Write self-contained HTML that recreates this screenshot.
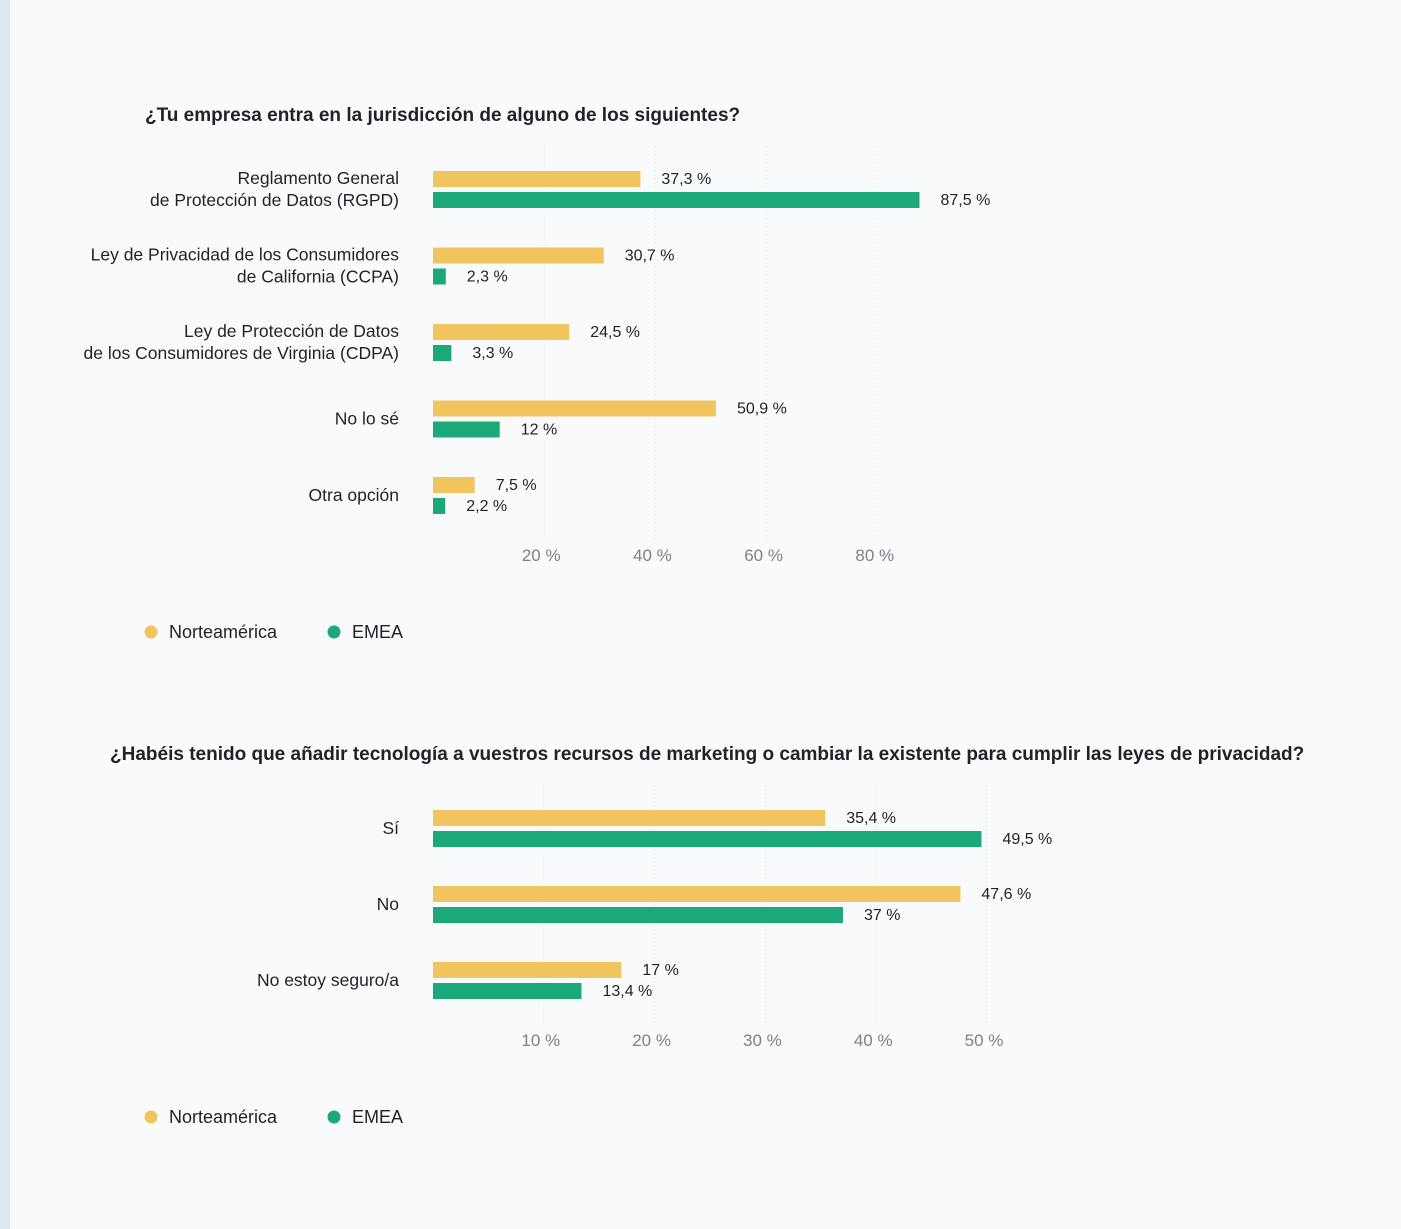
<!DOCTYPE html>
<html><head><meta charset="utf-8"><style>
html,body{margin:0;padding:0;background:#f8fafc;}
body{width:1401px;height:1229px;position:relative;overflow:hidden;font-family:"Liberation Sans",sans-serif;color:#1f2328;}
#strip{position:absolute;left:0;top:0;width:10px;height:1229px;background:#dde9f0;}
svg{position:absolute;left:0;top:0;}
</style></head><body>
<div id="strip"></div>
<svg id="svg" width="1401" height="1229"></svg>
<script>
const cats1 = ["Reglamento General|de Protección de Datos (RGPD)","Ley de Privacidad de los Consumidores|de California (CCPA)","Ley de Protección de Datos|de los Consumidores de Virginia (CDPA)","No lo sé","Otra opción"];
const na1 = [37.3,30.7,24.5,50.9,7.5];
const emea1 = [87.5,2.3,3.3,12,2.2];
const ticks1 = [20,40,60,80];
const cats2 = ["Sí","No","No estoy seguro/a"];
const na2 = [35.4,47.6,17];
const emea2 = [49.5,37,13.4];
const ticks2 = [10,20,30,40,50];

const NS="http://www.w3.org/2000/svg";
const svg=document.getElementById('svg');
function mk(t,a,p){const e=document.createElementNS(NS,t);for(const k in a)e.setAttribute(k,a[k]);(p||svg).appendChild(e);return e;}
function fmt(v){return String(v).replace('.',',')+' %';}

function chart(o){
  const g=mk('g',{});
  
  
  const x=v=>433+v*o.k;
  const t=mk('text',{x:o.titleX,y:o.titleY,'font-size':19,'font-weight':'bold',fill:'#1f2328'},g);
  t.textContent=o.title;
  
  
  o.ticks.forEach(v=>{
    const l=mk('line',{x1:x(v),x2:x(v),y1:o.y0-25,y2:o.axisY-20,stroke:'#eceff2','stroke-dasharray':'2,2'},g);
    
    
    const tx=mk('text',{x:x(v)-3,y:o.axisY,'font-size':17,fill:'#7b8288','text-anchor':'middle'},g);
    tx.textContent=v+' %';
    
    
  });
  o.cats.forEach((c,i)=>{
    const y=o.y0+i*o.step;
    const lines=c.split('|');
    const cy=y+18;
    lines.forEach((ln,j)=>{
      const tt=mk('text',{x:399,y:cy+6+(j-(lines.length-1)/2)*22,'font-size':17.5,'text-anchor':'end',fill:'#1f2328'},g);
      tt.textContent=ln;
      
      
    });
    [[o.na[i],'#f2c45e',y,'bar-norteamerica'],[o.em[i],'#1ba97a',y+21,'bar-emea']].forEach(([v,col,by,nm])=>{
      const r=mk('rect',{x:433,y:by,width:Math.max(0,x(v)-433),height:16,fill:col},g);
      
      
      const vt=mk('text',{x:x(v)+21,y:by+13,'font-size':16,fill:'#1f2328'},g);
      vt.textContent=fmt(v);
      
      
    });
  });
  [['#f2c45e','Norteamérica',151,'legend-norteamerica'],['#1ba97a','EMEA',334,'legend-emea']].forEach(([col,lab,lx,nm])=>{
    const lg=mk('g',{},g);
    
    
    mk('circle',{cx:lx,cy:o.legY-6,r:6.5,fill:col},lg);
    const lt=mk('text',{x:lx+18,y:o.legY,'font-size':18,fill:'#1f2328'},lg);
    lt.textContent=lab;
  });
}
chart({name:'chart-jurisdiction',title:'¿Tu empresa entra en la jurisdicción de alguno de los siguientes?',titleX:145,titleY:121,cats:cats1,na:na1,em:emea1,ticks:ticks1,k:5.56,y0:171,step:76.5,axisY:561,legY:638});
chart({name:'chart-technology',title:'¿Habéis tenido que añadir tecnología a vuestros recursos de marketing o cambiar la existente para cumplir las leyes de privacidad?',titleX:110,titleY:760,cats:cats2,na:na2,em:emea2,ticks:ticks2,k:11.08,y0:810,step:76,axisY:1046,legY:1123});
</script>
</body></html>
